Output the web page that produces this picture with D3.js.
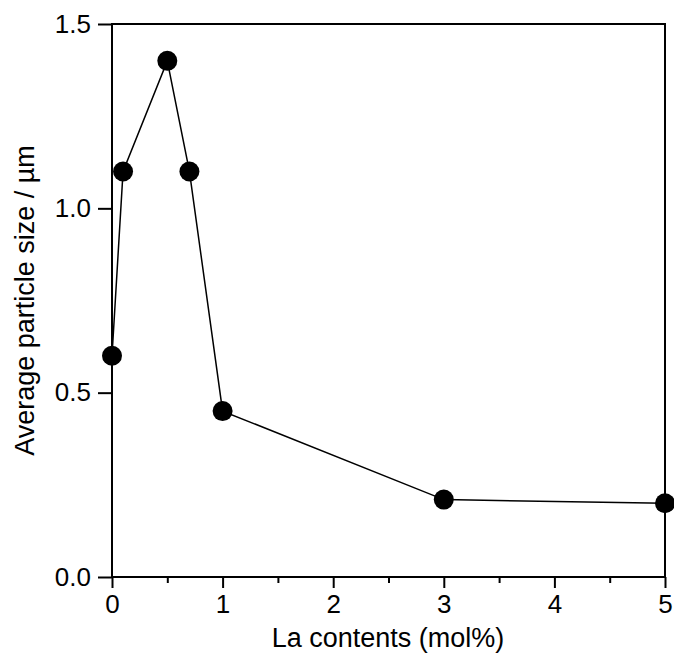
<!DOCTYPE html>
<html>
<head>
<meta charset="utf-8">
<script src="https://cdn.jsdelivr.net/npm/d3@7"></script>
<style>
  body { margin: 0; background: #fff; }
  text { font-family: "Liberation Sans", Arial, sans-serif; fill: #000; }
</style>
</head>
<body>
<div id="graph"></div>
<script>
// La content (mol%) vs average particle size (um)
var laContent = [0, 0.1, 0.5, 0.7, 1, 3, 5];
var particleSize = [0.6, 1.1, 1.4, 1.1, 0.45, 0.21, 0.2];
var xTicks = [0, 1, 2, 3, 4, 5];
var xMinorTicks = [0.5, 1.5, 2.5, 3.5, 4.5];
var yTicks = [0, 0.5, 1.0, 1.5];

var w = 674, h = 655;
var pLeft = 112, pRight = 665, pTop = 24, pBottom = 577;

var svg = d3.select('#graph').append('svg')
    .attr('width', w)
    .attr('height', h);

var x = d3.scaleLinear().domain([0, 5]).range([pLeft, pRight]);
var y = d3.scaleLinear().domain([0, 1.5]).range([pBottom, pTop]);

// frame
svg.append('rect')
    .attr('x', pLeft).attr('y', pTop)
    .attr('width', pRight - pLeft).attr('height', pBottom - pTop)
    .attr('fill', 'none').attr('stroke', '#000').attr('stroke-width', 2);

// x axis
svg.append('g')
    .attr('transform', 'translate(0,' + pBottom + ')')
    .call(d3.axisBottom(x).tickValues(xTicks).tickSize(11).tickPadding(7).tickFormat(d3.format('d')));
svg.append('g')
    .attr('transform', 'translate(0,' + pBottom + ')')
    .call(d3.axisBottom(x).tickValues(xMinorTicks).tickSize(6).tickFormat(''));

// y axis
svg.append('g')
    .attr('transform', 'translate(' + pLeft + ',0)')
    .call(d3.axisLeft(y).tickValues(yTicks).tickSize(14).tickPadding(7).tickFormat(d3.format('.1f')));

svg.selectAll('.domain').remove();
svg.selectAll('.tick line').attr('stroke', '#000').attr('stroke-width', 2);
svg.selectAll('.tick text')
    .attr('font-size', '26px')
    .attr('font-family', '"Liberation Sans", Arial, sans-serif')
    .attr('fill', '#000');

// axis titles
svg.append('text')
    .attr('x', 388)
    .attr('y', 647)
    .attr('text-anchor', 'middle')
    .attr('font-size', '27px')
    .text('La contents (mol%)');

svg.append('text')
    .attr('transform', 'translate(34,' + ((pTop + pBottom) / 2) + ') rotate(-90)')
    .attr('text-anchor', 'middle')
    .attr('font-size', '27px')
    .text('Average particle size / \u00b5m');

// line + markers
var pts = laContent.map(function(d, i) { return {x: d, y: particleSize[i]}; });

svg.append('path')
    .datum(pts)
    .attr('fill', 'none')
    .attr('stroke', '#000')
    .attr('stroke-width', 1.5)
    .attr('d', d3.line().x(function(d) { return x(d.x); }).y(function(d) { return y(d.y); }));

svg.selectAll('circle.pt')
    .data(pts)
    .enter()
    .append('circle')
    .attr('class', 'pt')
    .attr('cx', function(d) { return x(d.x); })
    .attr('cy', function(d) { return y(d.y); })
    .attr('r', 10)
    .attr('fill', '#000');
</script>
</body>
</html>
